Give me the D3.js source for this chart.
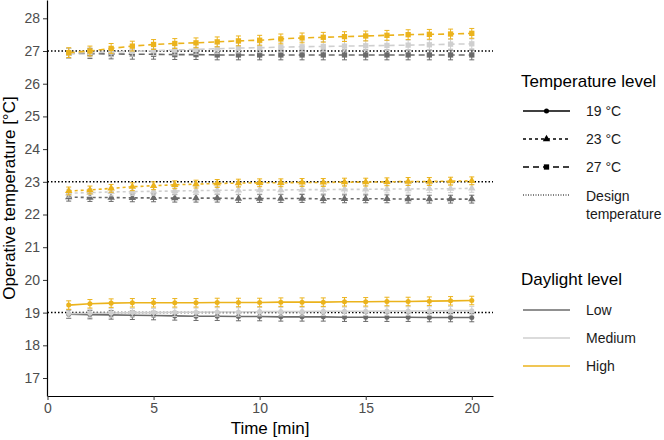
<!DOCTYPE html>
<html><head><meta charset="utf-8">
<script src="https://cdn.jsdelivr.net/npm/d3@7"></script>
<style>body{margin:0;background:#fff;} svg{display:block;font-family:"Liberation Sans",Arial,sans-serif;}</style>
</head><body>
<svg id="c" width="664" height="440"></svg>
<script>
const times = [1,2,3,4,5,6,7,8,9,10,11,12,13,14,15,16,17,18,19,20];
const xTicks = [0,5,10,15,20];
const yTicks = [17,18,19,20,21,22,23,24,25,26,27,28];
const designTemps = [19,23,27];
const tempLevels = ["19 °C","23 °C","27 °C"];
const daylightLevels = ["Low","Medium","High"];

// 19 °C
const t19Low    = [18.95,18.94,18.93,18.92,18.91,18.90,18.89,18.89,18.88,18.88,18.87,18.87,18.87,18.86,18.86,18.86,18.86,18.85,18.85,18.85];
const t19Medium = [18.97,18.98,18.99,19.00,19.00,19.01,19.01,19.02,19.02,19.03,19.03,19.03,19.04,19.04,19.04,19.05,19.05,19.05,19.06,19.06];
const t19High   = [19.23,19.27,19.29,19.30,19.30,19.30,19.30,19.31,19.31,19.31,19.32,19.32,19.32,19.33,19.33,19.34,19.34,19.35,19.36,19.37];
// 23 °C
const t23Low    = [22.53,22.52,22.52,22.51,22.51,22.50,22.50,22.50,22.49,22.49,22.49,22.49,22.48,22.48,22.48,22.48,22.47,22.47,22.47,22.47];
const t23Medium = [22.65,22.67,22.69,22.70,22.71,22.72,22.73,22.74,22.74,22.75,22.75,22.76,22.76,22.77,22.77,22.78,22.78,22.79,22.79,22.80];
const t23High   = [22.72,22.75,22.80,22.85,22.88,22.91,22.93,22.95,22.96,22.97,22.97,22.98,22.98,22.99,22.99,23.00,23.01,23.01,23.02,23.03];
// 27 °C
const t27Low    = [26.93,26.92,26.91,26.90,26.90,26.89,26.89,26.88,26.88,26.88,26.88,26.88,26.88,26.88,26.88,26.88,26.88,26.88,26.88,26.88];
const t27Medium = [26.93,26.95,26.97,26.99,27.01,27.03,27.05,27.07,27.09,27.10,27.12,27.13,27.14,27.15,27.16,27.17,27.18,27.19,27.21,27.22];
const t27High   = [26.95,27.00,27.08,27.15,27.20,27.23,27.25,27.28,27.31,27.33,27.37,27.40,27.42,27.44,27.46,27.48,27.50,27.51,27.52,27.54];
// error half-widths per series
const errLow19 = 0.13, errMed19 = 0.13, errHigh19 = 0.13;
const errLow23 = 0.12, errMed23 = 0.12, errHigh23 = 0.12;
const errLow27 = 0.15, errMed27 = 0.15, errHigh27 = 0.15;

const colors = {Low:"#6b6b6b", Medium:"#cfcfcf", High:"#ebb31c"};
const dashes = {"19 °C":null, "23 °C":"3,3", "27 °C":"6,4"};
const shapes = {"19 °C":d3.symbolCircle, "23 °C":d3.symbolTriangle, "27 °C":d3.symbolSquare};
const shapeSize = {"19 °C":20, "23 °C":24, "27 °C":28};

const series = [
  {temp:"19 °C", day:"Low", vals:t19Low, err:errLow19},
  {temp:"19 °C", day:"Medium", vals:t19Medium, err:errMed19},
  {temp:"19 °C", day:"High", vals:t19High, err:errHigh19},
  {temp:"23 °C", day:"Low", vals:t23Low, err:errLow23},
  {temp:"23 °C", day:"Medium", vals:t23Medium, err:errMed23},
  {temp:"23 °C", day:"High", vals:t23High, err:errHigh23},
  {temp:"27 °C", day:"Low", vals:t27Low, err:errLow27},
  {temp:"27 °C", day:"Medium", vals:t27Medium, err:errMed27},
  {temp:"27 °C", day:"High", vals:t27High, err:errHigh27}
];

const svg = d3.select("#c");
const x = d3.scaleLinear().domain([0,21]).range([47.5,493]);
const y = d3.scaleLinear().domain([16.45,28.56]).range([396,0]);

// design temperature lines
svg.append("g").selectAll("line").data(designTemps).join("line")
  .attr("x1",x(0)).attr("x2",x(21)).attr("y1",d=>y(d)).attr("y2",d=>y(d))
  .attr("stroke","#000").attr("stroke-width",1.5).attr("stroke-dasharray","1.5,2");

const order = ["Low","Medium","High"];
const sorted = series.slice().sort((a,b)=>order.indexOf(a.day)-order.indexOf(b.day));
const line = d3.line().x((d,i)=>x(times[i])).y(d=>y(d));
sorted.forEach(s=>{
  const g = svg.append("g");
  g.append("path").attr("d",line(s.vals)).attr("fill","none")
    .attr("stroke",colors[s.day]).attr("stroke-width",1.6)
    .attr("stroke-dasharray",dashes[s.temp]);
  g.selectAll("path.eb").data(s.vals).join("path").attr("class","eb")
    .attr("d",(d,i)=>{const cx=x(times[i]), y1=y(d-s.err), y2=y(d+s.err);
      return `M${cx-2.5},${y1}H${cx+2.5}M${cx},${y1}V${y2}M${cx-2.5},${y2}H${cx+2.5}`;})
    .attr("stroke",colors[s.day]).attr("stroke-width",1).attr("fill","none");
  g.selectAll("path.pt").data(s.vals).join("path").attr("class","pt")
    .attr("transform",(d,i)=>`translate(${x(times[i])},${y(d)})`)
    .attr("d",d3.symbol().type(shapes[s.temp]).size(shapeSize[s.temp]))
    .attr("fill",colors[s.day]);
});

// axes
const yAxis = svg.append("g").attr("transform",`translate(${x(0)-0.5},0)`)
  .call(d3.axisLeft(y).tickValues(yTicks).tickSize(4).tickSizeOuter(0).tickPadding(3));
const xAxis = svg.append("g").attr("transform",`translate(0,${396})`)
  .call(d3.axisBottom(x).tickValues(xTicks).tickSize(4).tickSizeOuter(0).tickPadding(3));
[yAxis,xAxis].forEach(a=>{
  a.select(".domain").attr("stroke","#000").attr("stroke-width",1.2);
  a.selectAll(".tick line").attr("stroke","#333").attr("stroke-width",1);
  a.selectAll(".tick text").attr("fill","#4d4d4d").style("font-size","14px");
});
svg.append("text").attr("x",270).attr("y",434).attr("text-anchor","middle")
  .style("font-size","17px").text("Time [min]");
svg.append("text").attr("transform","translate(15,198) rotate(-90)").attr("text-anchor","middle")
  .style("font-size","17px").text("Operative temperature [°C]");

// legends
const lg = svg.append("g");
lg.append("text").attr("x",521).attr("y",87).style("font-size","17px").text("Temperature level");
const tRows = [111,139,167];
tempLevels.forEach((t,i)=>{
  const yy = tRows[i];
  lg.append("line").attr("x1",523).attr("x2",570).attr("y1",yy).attr("y2",yy)
    .attr("stroke","#000").attr("stroke-width",1.3).attr("stroke-dasharray",dashes[t]);
  lg.append("path").attr("transform",`translate(546.5,${yy})`)
    .attr("d",d3.symbol().type(shapes[t]).size(shapeSize[t])).attr("fill","#000");
  lg.append("text").attr("x",586).attr("y",yy+5).style("font-size","14px").attr("fill","#1a1a1a").text(t);
});
lg.append("line").attr("x1",523).attr("x2",570).attr("y1",195).attr("y2",195)
  .attr("stroke","#000").attr("stroke-width",1).attr("stroke-dasharray","1,1.5");
lg.append("text").attr("x",586).attr("y",201).style("font-size","14px").attr("fill","#1a1a1a").text("Design");
lg.append("text").attr("x",586).attr("y",219).style("font-size","14px").attr("fill","#1a1a1a").text("temperature");

lg.append("text").attr("x",521).attr("y",285).style("font-size","17px").text("Daylight level");
const dRows = [310,338,366];
daylightLevels.forEach((d,i)=>{
  const yy = dRows[i];
  lg.append("line").attr("x1",523).attr("x2",570).attr("y1",yy).attr("y2",yy)
    .attr("stroke",colors[d]).attr("stroke-width",1.5);
  lg.append("text").attr("x",586).attr("y",yy+5).style("font-size","14px").attr("fill","#1a1a1a").text(d);
});
</script>
</body></html>
